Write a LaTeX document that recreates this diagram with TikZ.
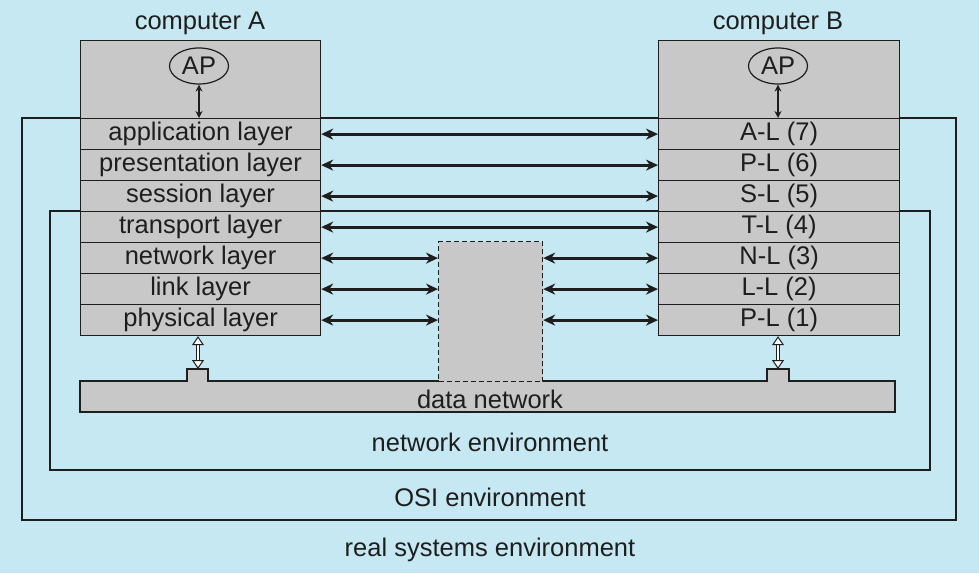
\documentclass[tikz,border=0pt]{standalone}
\usepackage{fontspec}
\setmainfont{Liberation Sans}
\usetikzlibrary{arrows.meta,shapes.geometric}
\definecolor{bg}{RGB}{197,232,242}
\definecolor{boxgray}{RGB}{200,200,200}
\definecolor{ink}{RGB}{30,30,30}
\begin{document}
\begin{tikzpicture}[x=1pt,y=-1pt,
  txt/.style={font=\fontsize{25.5}{29}\selectfont, text=ink},
  layer/.style={draw=ink, fill=boxgray, line width=1.2pt, minimum width=240pt, minimum height=31pt, inner sep=0pt, anchor=north west, txt},
  layerB/.style={layer, minimum width=241pt},
  envline/.style={draw=ink, line width=1.2pt},
  arr/.style={draw=ink, line width=2.8pt, {Stealth[length=12pt,width=11pt]}-{Stealth[length=12pt,width=11pt]}},
  aparr/.style={draw=ink, line width=1.4pt, {Stealth[length=7pt,width=7pt]}-{Stealth[length=7pt,width=7pt]}},
  hollow/.style={draw=ink, line width=1pt, double=white, double distance=2.2pt, {Triangle[open,fill=white,length=9pt,width=12pt]}-{Triangle[open,fill=white,length=9pt,width=12pt]}},
  apnode/.style={ellipse, draw=ink, line width=1.2pt, minimum width=59pt, minimum height=36pt, inner sep=0pt, txt}
]
\useasboundingbox (0,0) rectangle (979,573);
\fill[bg] (0,0) rectangle (979,573);

% environments
\draw[envline] (22,118) rectangle (956,520);
\draw[envline] (50,211) rectangle (930,470);

% data network
\coordinate (bumpA) at (198,369);
\coordinate (bumpB) at (778,369);
\draw[draw=ink, fill=boxgray, line width=1.2pt] (80,381) -- (187,381) -- (187,369) -- (208,369) -- (208,381) -- (767,381) -- (767,369) -- (789,369) -- (789,381) -- (895,381) -- (895,412) -- (80,412) -- cycle;
\node[txt] (dn) at (490,399) {data network};

% relay box
\node[draw=ink, fill=boxgray, dash pattern=on 5pt off 3pt, line width=1.2pt, minimum width=104pt, minimum height=140pt, inner sep=0pt, anchor=north west] (relay) at (438,241) {};

% computer A
\node[txt] (compA) at (200,23) {computer A};
\node[layer, minimum height=78pt] (topA) at (80,40) {};
\node[layer] (appA) at (80,118) {\raisebox{-1.5pt}{application layer}};
\node[layer] (preA) at (80,149) {\raisebox{-1.5pt}{presentation layer}};
\node[layer] (sesA) at (80,180) {\raisebox{-1.5pt}{session layer}};
\node[layer] (traA) at (80,211) {\raisebox{-1.5pt}{transport layer}};
\node[layer] (netA) at (80,242) {\raisebox{-1.5pt}{network layer}};
\node[layer] (linA) at (80,273) {\raisebox{-1.5pt}{link layer}};
\node[layer] (phyA) at (80,304) {\raisebox{-1.5pt}{physical layer}};
\node[apnode] (apA) at (199,66) {AP};

% computer B
\node[txt] (compB) at (778,23) {computer B};
\node[layerB, minimum height=78pt] (topB) at (658,40) {};
\node[layerB] (appB) at (658,118) {\raisebox{-1.5pt}{A-L (7)}};
\node[layerB] (preB) at (658,149) {\raisebox{-1.5pt}{P-L (6)}};
\node[layerB] (sesB) at (658,180) {\raisebox{-1.5pt}{S-L (5)}};
\node[layerB] (traB) at (658,211) {\raisebox{-1.5pt}{T-L (4)}};
\node[layerB] (netB) at (658,242) {\raisebox{-1.5pt}{N-L (3)}};
\node[layerB] (linB) at (658,273) {\raisebox{-1.5pt}{L-L (2)}};
\node[layerB] (phyB) at (658,304) {\raisebox{-1.5pt}{P-L (1)}};
\node[apnode] (apB) at (778,66) {AP};

% AP arrows
\draw[aparr] (apA.south) -- (apA.south |- appA.north);
\draw[aparr] (apB.south) -- (apB.south |- appB.north);

% peer arrows
\draw[arr] (appA.east) -- (appB.west);
\draw[arr] (preA.east) -- (preB.west);
\draw[arr] (sesA.east) -- (sesB.west);
\draw[arr] (traA.east) -- (traB.west);
\draw[arr] (netA.east) -- (netA.east -| relay.west);
\draw[arr] (linA.east) -- (linA.east -| relay.west);
\draw[arr] (phyA.east) -- (phyA.east -| relay.west);
\draw[arr] (netB.west -| relay.east) -- (netB.west);
\draw[arr] (linB.west -| relay.east) -- (linB.west);
\draw[arr] (phyB.west -| relay.east) -- (phyB.west);

% physical to network
\draw[hollow] (phyA.south -| bumpA) -- (bumpA);
\draw[hollow] (phyB.south -| bumpB) -- (bumpB);

% labels
\node[txt] (netenv) at (490,442) {network environment};
\node[txt] (osienv) at (490,497) {OSI environment};
\node[txt] (realenv) at (490,550) {real systems environment};
\end{tikzpicture}
\end{document}
